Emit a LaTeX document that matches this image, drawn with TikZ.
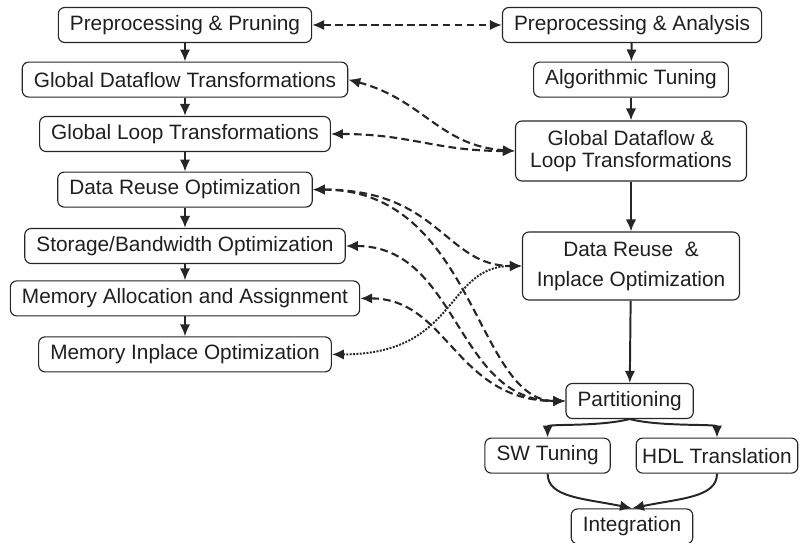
\documentclass[tikz,border=0pt]{standalone}
\usepackage{fontspec}
\setmainfont{Liberation Sans}
\usetikzlibrary{arrows.meta}

\colorlet{stage edge}{black!85}
\tikzset{stage/.style={draw=stage edge, line width=0.8pt, rounded corners=0.16cm,
        inner xsep=0.29cm, minimum height=0.875cm, text=black!88,
        font=\fontsize{14.8}{15.6}\selectfont},
    flow/.style={draw=stage edge, line width=1.4pt, >={Latex[length=3mm,width=2.6mm]}, ->},
    link/.style={flow, <->, line width=1.5pt, dash pattern=on 5.5pt off 3pt},
    feedback/.style={flow, <->, line width=1.4pt, densely dotted}}

\begin{document}
\begin{tikzpicture}
    \useasboundingbox (0,0) rectangle (20.125,-13.575);

    \node[stage] (pp)  at (4.625,-0.625) {Preprocessing \& Pruning};
    \node[stage] (gdt) at (4.625,-1.99)  {Global Dataflow Transformations};
    \node[stage] (glt) at (4.625,-3.35)  {Global Loop Transformations};
    \node[stage] (dro) at (4.625,-4.74)  {Data Reuse Optimization};
    \node[stage] (sbo) at (4.625,-6.15)  {Storage/Bandwidth Optimization};
    \node[stage] (maa) at (4.625,-7.46)  {Memory Allocation and Assignment};
    \node[stage] (mio) at (4.625,-8.86)  {Memory Inplace Optimization};

    \node[stage] (pa)   at (15.8,-0.625)  {Preprocessing \& Analysis};
    \node[stage] (algo) at (15.775,-1.99) {Algorithmic Tuning};
    \node[stage, align=center, minimum width=5.775cm, minimum height=1.5cm] (gdl) at (15.775,-3.775)
        {Global Dataflow \&\\Loop Transformations};
    \node[stage, align=center, minimum width=5.425cm, minimum height=1.7cm] (dri) at (15.775,-6.65)
        {Data Reuse\ \ \&\\[5.7pt]Inplace Optimization};
    \node[stage] (part)  at (15.74,-10.025) {Partitioning};
    \node[stage] (sw)    at (13.69,-11.39)  {SW Tuning};
    \node[stage, inner xsep=0.15cm] (hdl) at (17.925,-11.39) {HDL Translation};
    \node[stage] (integ) at (15.8,-13.16)   {Integration};

    \draw[flow] (pp) -- (gdt);
    \draw[flow] (gdt) -- (glt);
    \draw[flow] (glt) -- (dro);
    \draw[flow] (dro) -- (sbo);
    \draw[flow] (sbo) -- (maa);
    \draw[flow] (maa) -- (mio);

    \draw[flow] (pa) -- (algo);
    \draw[flow] (algo) -- (gdl);
    \draw[flow] (gdl) -- (dri);
    \draw[flow] (dri) -- (part);

    \draw[flow] (part.south) .. controls +(-0.8,-0.2) and +(0,0.35) .. (sw.north);
    \draw[flow] (part.south) .. controls +(0.8,-0.2) and +(0,0.35) .. (hdl.north);
    \draw[flow] (sw.south) .. controls +(0,-0.6) and +(-1.2,0.25) .. (integ.north);
    \draw[flow] (hdl.south) .. controls +(0,-0.6) and +(1.2,0.25) .. (integ.north);

    \draw[link] (pp) -- (pa);
    \draw[link] (gdt.east) .. controls +(1.875,-0.5) and +(-1.875,0.125) .. (gdl.west);
    \draw[link] (glt.east) .. controls +(2,0) and +(-2,0) .. (gdl.west);
    \draw[link] (dro.east) .. controls +(3.175,0) and +(-1.925,0) .. (dri.west);
    \draw[link] (dro.east) .. controls +(4.05,0) and +(-2.25,0) .. (part.west);
    \draw[link] (sbo.east) .. controls +(2.825,0) and +(-2.75,0) .. (part.west);
    \draw[link] (maa.east) .. controls +(2.2,0) and +(-2.75,0) .. (part.west);
    \draw[feedback] (mio.east) .. controls +(3.175,0) and +(-1.925,0) .. (dri.west);
\end{tikzpicture}
\end{document}
